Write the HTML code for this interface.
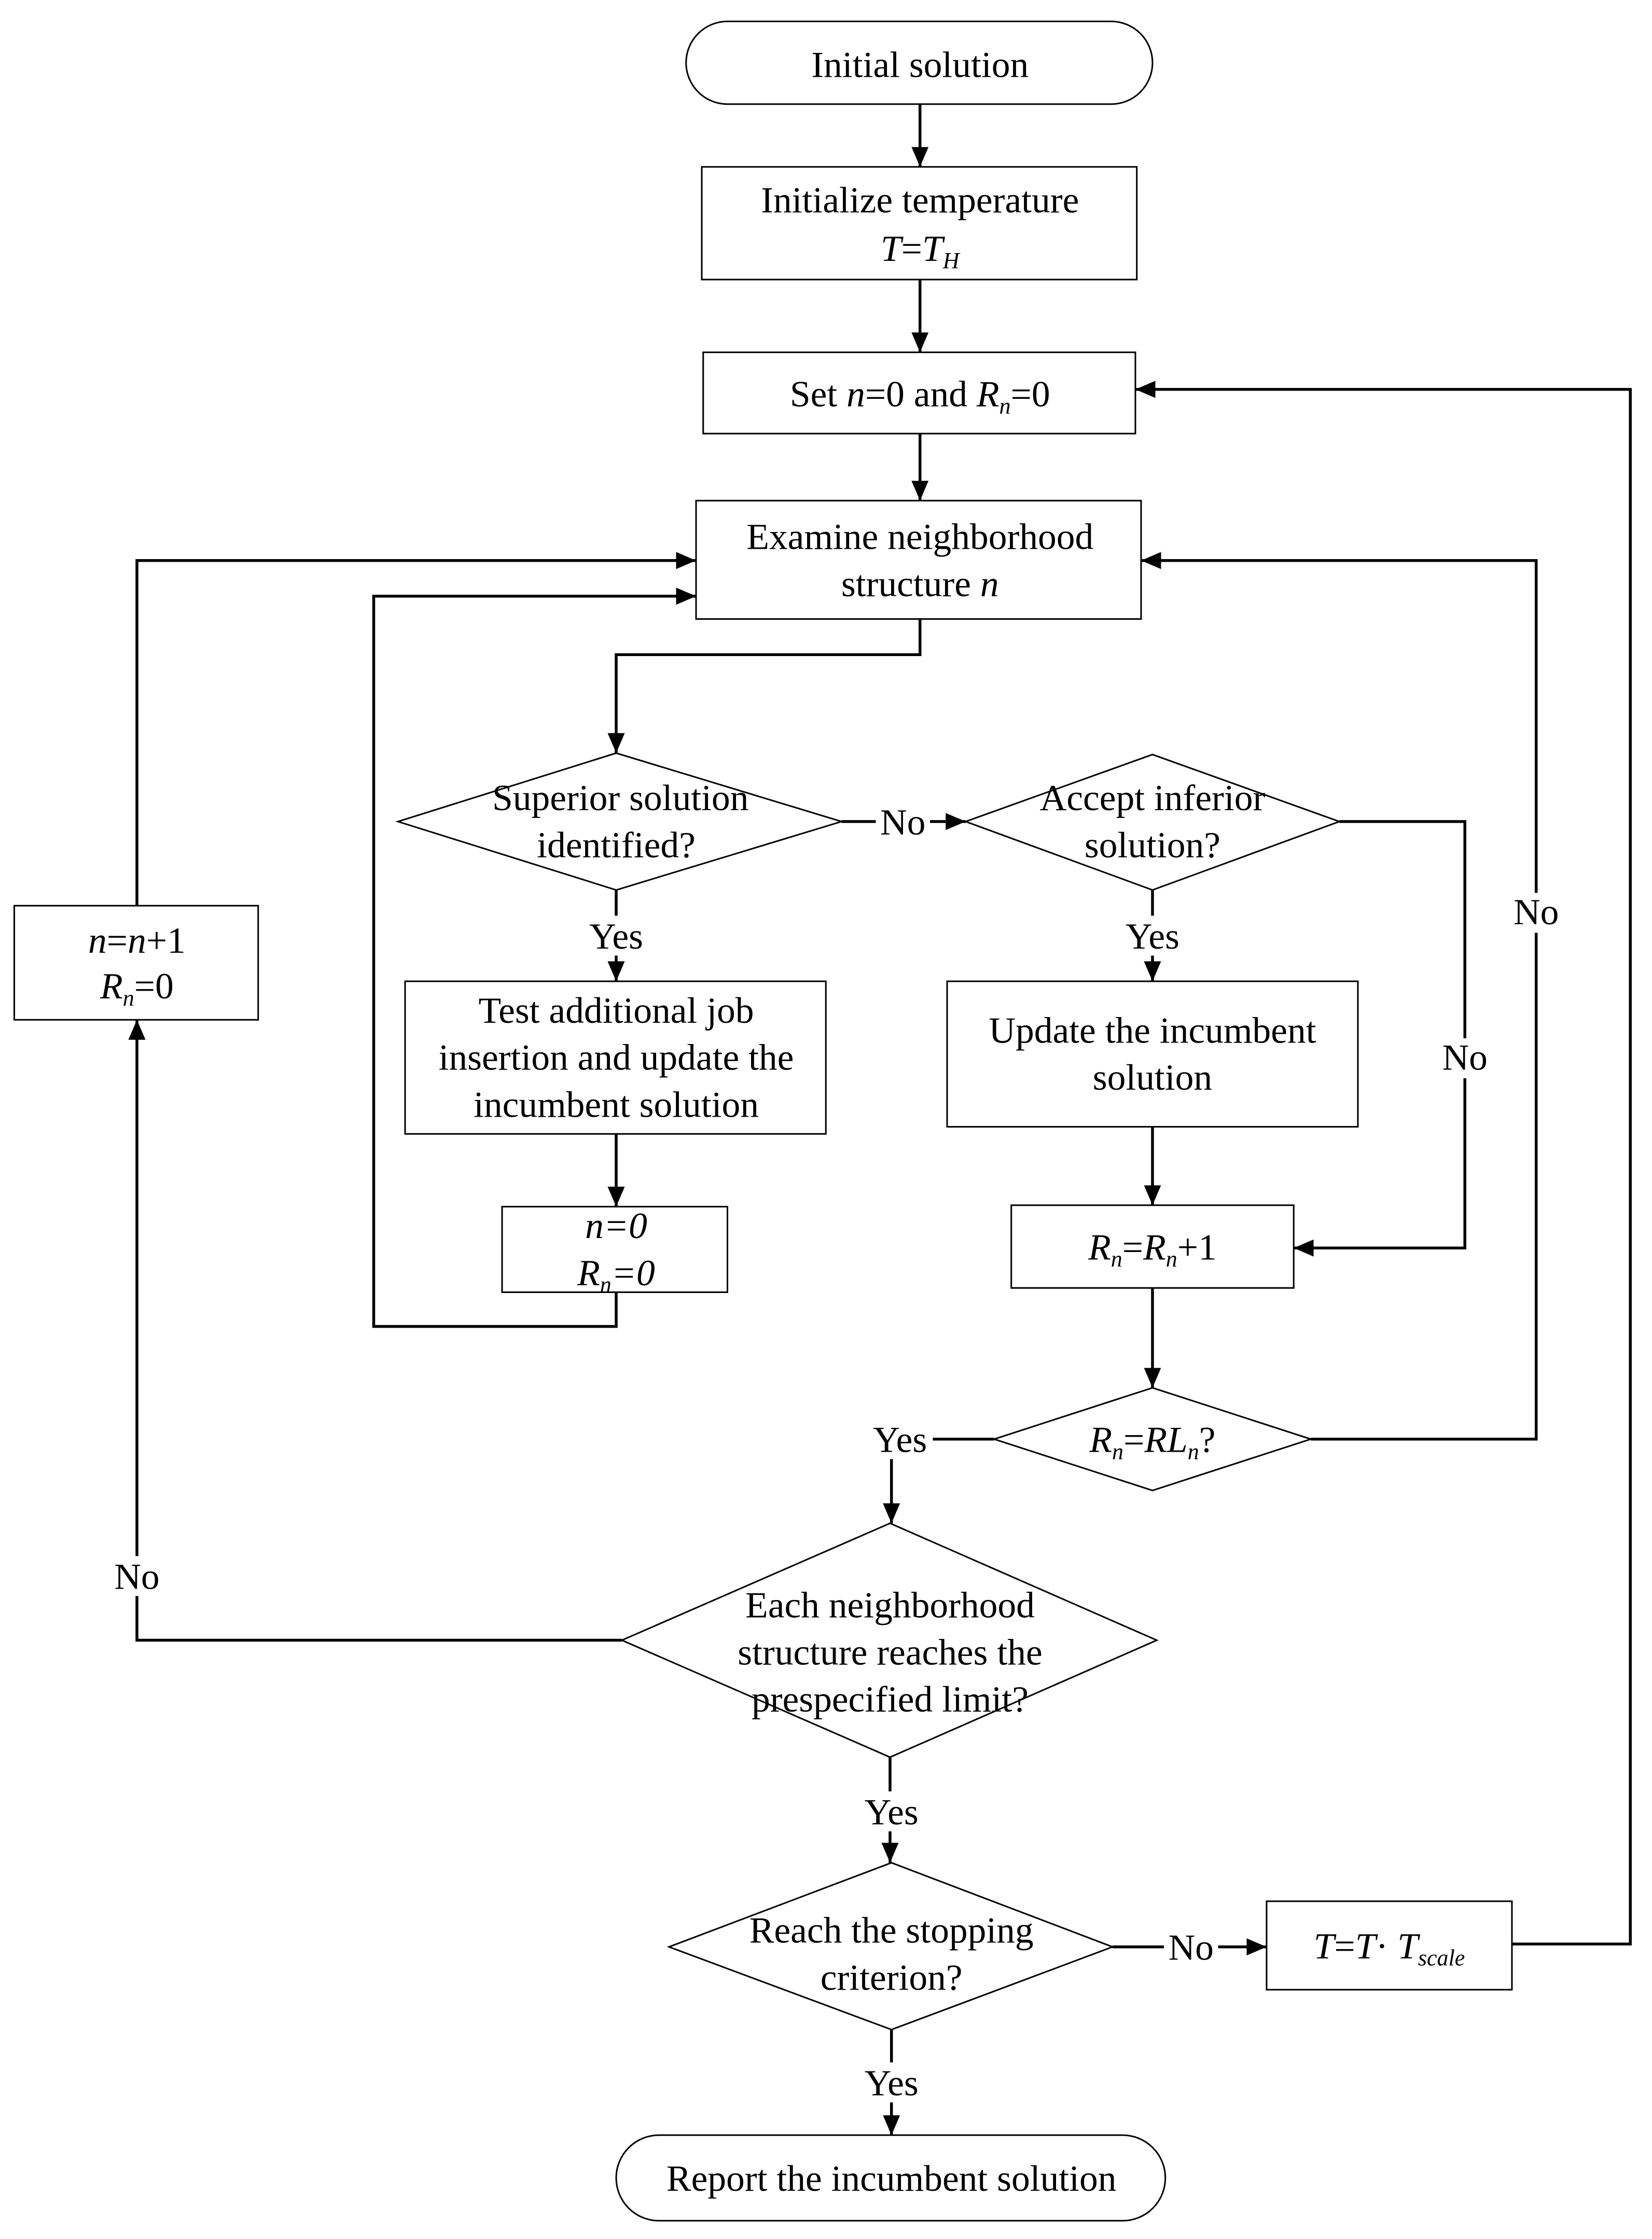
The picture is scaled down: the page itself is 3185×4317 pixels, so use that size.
<!DOCTYPE html>
<html><head><meta charset="utf-8"><style>html,body{margin:0;padding:0;background:#fff}svg{display:block}svg text{font-family:"Liberation Serif","Times New Roman",Times,serif;}</style></head>
<body>
<svg width="3185" height="4317" viewBox="0 0 1158.2 1569.8" preserveAspectRatio="none" xmlns="http://www.w3.org/2000/svg" font-size="26" text-anchor="middle">
<defs><marker id="a" viewBox="0 0 14 12" refX="14" refY="6" markerWidth="14" markerHeight="12" markerUnits="userSpaceOnUse" orient="auto"><path d="M0,0L14,6L0,12Z" fill="#000"/></marker></defs>
<g fill="none" stroke="#000" stroke-width="1.1">
<rect x="481" y="15" width="327" height="58" rx="29"/>
<rect x="492" y="117" width="305" height="79"/>
<rect x="493" y="247" width="303" height="57"/>
<rect x="488" y="351" width="312" height="83"/>
<polygon points="279,576 432,528 590,576 432,624"/>
<polygon points="677,576 808,529 939,576 808,624"/>
<rect x="284" y="688" width="295" height="107"/>
<rect x="352" y="846" width="158" height="60"/>
<rect x="664" y="688" width="288" height="102"/>
<rect x="709" y="845" width="198" height="58"/>
<polygon points="697,1009 808,973 919,1009 808,1045"/>
<polygon points="436,1150 624,1068 811,1150 624,1232"/>
<rect x="10" y="635" width="171" height="80"/>
<polygon points="469,1365 625,1306 780,1365 625,1423"/>
<rect x="888" y="1333" width="172" height="62"/>
<rect x="432" y="1497" width="385" height="60" rx="30"/>
</g>
<g fill="none" stroke="#000" stroke-width="2">
<path d="M645,73V117" marker-end="url(#a)"/>
<path d="M645,196V247" marker-end="url(#a)"/>
<path d="M645,304V351" marker-end="url(#a)"/>
<path d="M645,434V459H432V528" marker-end="url(#a)"/>
<path d="M590,576H677" marker-end="url(#a)"/>
<path d="M432,624V688" marker-end="url(#a)"/>
<path d="M432,795V846" marker-end="url(#a)"/>
<path d="M432,906V930H262V418H488" marker-end="url(#a)"/>
<path d="M808,624V688" marker-end="url(#a)"/>
<path d="M808,790V845" marker-end="url(#a)"/>
<path d="M939,576H1027V875H907" marker-end="url(#a)"/>
<path d="M808,903V973" marker-end="url(#a)"/>
<path d="M919,1009H1077V393H800" marker-end="url(#a)"/>
<path d="M697,1009H625V1068" marker-end="url(#a)"/>
<path d="M436,1150H96V715" marker-end="url(#a)"/>
<path d="M96,635V393H488" marker-end="url(#a)"/>
<path d="M624,1232V1306" marker-end="url(#a)"/>
<path d="M780,1365H888" marker-end="url(#a)"/>
<path d="M1060,1363H1143V273H796" marker-end="url(#a)"/>
<path d="M625,1423V1497" marker-end="url(#a)"/>
</g>
<g fill="#fff">
<rect x="614" y="562" width="38" height="28"/>
<rect x="410" y="642" width="44" height="28"/>
<rect x="786" y="642" width="44" height="28"/>
<rect x="1008" y="728" width="38" height="28"/>
<rect x="1058" y="626" width="38" height="28"/>
<rect x="608" y="995" width="46" height="28"/>
<rect x="77" y="1091" width="38" height="28"/>
<rect x="603" y="1256" width="44" height="28"/>
<rect x="816" y="1351" width="38" height="28"/>
<rect x="603" y="1446" width="44" height="28"/>
</g>
<g fill="#000">
<text x="645" y="54">Initial solution</text>
<text x="645" y="149">Initialize temperature</text>
<text x="645" y="183"><tspan font-style="italic">T</tspan>=<tspan font-style="italic">T<tspan font-size="16" dy="5">H</tspan></tspan></text>
<text x="645" y="285">Set <tspan font-style="italic">n</tspan>=0 and <tspan font-style="italic">R<tspan font-size="16" dy="5">n</tspan></tspan><tspan dy="-5">=0</tspan></text>
<text x="645" y="385">Examine neighborhood</text>
<text x="645" y="418">structure <tspan font-style="italic">n</tspan></text>
<text x="435" y="568">Superior solution</text>
<text x="432" y="601">identified?</text>
<text x="808" y="568">Accept inferior</text>
<text x="808" y="601">solution?</text>
<text x="633" y="585">No</text>
<text x="432" y="665">Yes</text>
<text x="808" y="665">Yes</text>
<text x="432" y="717">Test additional job</text>
<text x="432" y="750">insertion and update the</text>
<text x="432" y="783">incumbent solution</text>
<text x="432" y="868" font-style="italic">n=0</text>
<text x="432" y="901" font-style="italic">R<tspan font-size="16" dy="5">n</tspan><tspan dy="-5">=0</tspan></text>
<text x="808" y="731">Update the incumbent</text>
<text x="808" y="764">solution</text>
<text x="808" y="883"><tspan font-style="italic">R<tspan font-size="16" dy="5">n</tspan></tspan><tspan dy="-5">=</tspan><tspan font-style="italic">R<tspan font-size="16" dy="5">n</tspan></tspan><tspan dy="-5">+1</tspan></text>
<text x="1027" y="750">No</text>
<text x="1077" y="648">No</text>
<text x="808" y="1018"><tspan font-style="italic">R<tspan font-size="16" dy="5">n</tspan></tspan><tspan dy="-5">=</tspan><tspan font-style="italic">RL<tspan font-size="16" dy="5">n</tspan></tspan><tspan dy="-5">?</tspan></text>
<text x="631" y="1018">Yes</text>
<text x="624" y="1134">Each neighborhood</text>
<text x="624" y="1167">structure reaches the</text>
<text x="624" y="1200">prespecified limit?</text>
<text x="96" y="1114">No</text>
<text x="96" y="668"><tspan font-style="italic">n</tspan>=<tspan font-style="italic">n</tspan>+1</text>
<text x="96" y="700"><tspan font-style="italic">R<tspan font-size="16" dy="5">n</tspan></tspan><tspan dy="-5">=0</tspan></text>
<text x="625" y="1279">Yes</text>
<text x="625" y="1362">Reach the stopping</text>
<text x="625" y="1395">criterion?</text>
<text x="835" y="1374">No</text>
<text x="974" y="1373"><tspan font-style="italic">T</tspan>=<tspan font-style="italic">T</tspan>· <tspan font-style="italic">T<tspan font-size="16" dy="5">scale</tspan></tspan></text>
<text x="625" y="1469">Yes</text>
<text x="625" y="1536">Report the incumbent solution</text>
</g>
</svg>
</body></html>
